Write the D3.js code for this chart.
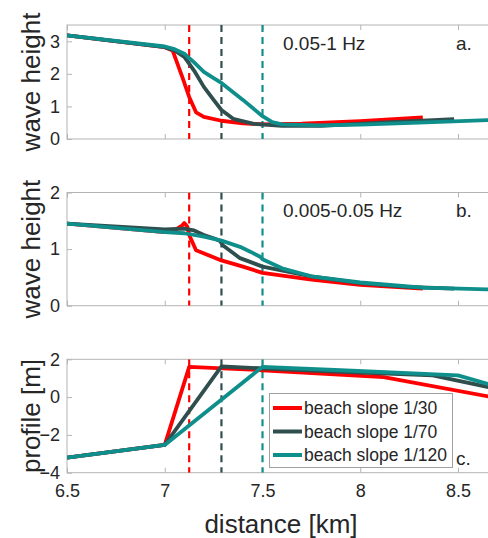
<!DOCTYPE html>
<html>
<head>
<meta charset="utf-8">
<script src="https://cdn.jsdelivr.net/npm/d3@7"></script>
<style>
  html, body { margin: 0; padding: 0; background: #fff; }
  svg { display: block; font-family: "Liberation Sans", Arial, sans-serif; }
  .tick text { fill: #262626; font-size: 18px; font-family: "Liberation Sans", Arial, sans-serif; }
  .domain { display: none; }
  .tick line { stroke: #b4b4b4; }
</style>
</head>
<body>
<div id="chart"></div>
<script>
// series names + colours
const SLOPES = ['beach slope 1/30', 'beach slope 1/70', 'beach slope 1/120'];
const COLORS = ['#ff0000', '#2f4f4f', '#0f8f8c'];
const shoreX = [7.125, 7.29, 7.5];   // dashed shoreline markers (km)

// panel a: wave height 0.05-1 Hz  [distance km, height]
const hfRed = [[6.5,3.18],[7.0,2.82],[7.04,2.72],[7.09,1.9],[7.125,1.29],[7.16,0.82],[7.2,0.68],[7.29,0.56],[7.4,0.48],[7.5,0.45],[7.7,0.47],[8.0,0.55],[8.32,0.66]];
const hfDark = [[6.5,3.18],[7.0,2.82],[7.05,2.72],[7.1,2.52],[7.15,2.1],[7.2,1.6],[7.25,1.2],[7.29,0.89],[7.35,0.62],[7.45,0.47],[7.6,0.4],[7.8,0.4],[8.1,0.5],[8.48,0.61]];
const hfTeal = [[6.5,3.18],[7.0,2.84],[7.05,2.76],[7.1,2.62],[7.15,2.35],[7.2,2.06],[7.25,1.87],[7.29,1.72],[7.4,1.2],[7.5,0.7],[7.55,0.52],[7.6,0.45],[7.8,0.42],[8.0,0.44],[8.3,0.5],[8.65,0.58],[8.75,0.6]];

// panel b: wave height 0.005-0.05 Hz
const lfRed = [[6.5,1.45],[7.0,1.3],[7.05,1.33],[7.09,1.42],[7.1,1.46],[7.115,1.4],[7.125,1.25],[7.16,0.98],[7.29,0.8],[7.4,0.69],[7.5,0.58],[7.75,0.46],[8.0,0.37],[8.32,0.3]];
const lfDark = [[6.5,1.45],[7.0,1.35],[7.1,1.36],[7.15,1.33],[7.2,1.25],[7.25,1.19],[7.28,1.15],[7.3,1.06],[7.385,0.84],[7.44,0.77],[7.5,0.69],[7.75,0.52],[8.0,0.4],[8.25,0.33],[8.48,0.3]];
const lfTeal = [[6.5,1.45],[7.0,1.3],[7.1,1.28],[7.2,1.22],[7.29,1.15],[7.385,1.04],[7.44,0.95],[7.49,0.86],[7.5,0.82],[7.6,0.66],[7.75,0.52],[8.0,0.41],[8.32,0.32],[8.65,0.29],[8.75,0.29]];

// panel c: bed profile [m]
const prRed = [[6.5,-3.2],[7.0,-2.53],[7.125,1.6],[7.5,1.42],[8.12,1.06],[8.75,-0.15]];
const prDark = [[6.5,-3.2],[7.0,-2.53],[7.29,1.62],[7.9,1.33],[8.37,1.15],[8.75,0.32]];
const prTeal = [[6.5,-3.2],[7.0,-2.53],[7.5,1.6],[7.9,1.42],[8.5,1.15],[8.75,0.4]];

const xTicks = [6.5, 7, 7.5, 8, 8.5];

const W = 488, H = 538;
const svg = d3.select('#chart').append('svg').attr('width', W).attr('height', H);

// plot spans past the right edge of the picture
const x = d3.scaleLinear().domain([6.5, 9]).range([67, 67 + 2.5 * 195.5]);
const right = x(9);

const panels = [
  { top: 25, bottom: 139, domain: [0, 3.5], yTicks: [0, 1, 2, 3], label: 'wave height',
    series: [hfRed, hfDark, hfTeal], note: '0.05-1 Hz', noteY: 50, tag: 'a.', tagY: 50 },
  { top: 192.5, bottom: 305.7, domain: [0, 2], yTicks: [0, 1, 2], label: 'wave height',
    series: [lfRed, lfDark, lfTeal], note: '0.005-0.05 Hz', noteY: 217, tag: 'b.', tagY: 217 },
  { top: 359.3, bottom: 472.7, domain: [-4, 2], yTicks: [-4, -2, 0, 2], label: 'profile [m]',
    series: [prRed, prDark, prTeal], note: null, tag: 'c.', tagY: 465 },
];

panels.forEach((p, pi) => {
  const y = d3.scaleLinear().domain(p.domain).range([p.bottom, p.top]);
  const g = svg.append('g');

  const clipId = 'clip' + pi;
  g.append('clipPath').attr('id', clipId).append('rect')
    .attr('x', x(6.5)).attr('y', p.top).attr('width', right - x(6.5)).attr('height', p.bottom - p.top);

  // axes: ticks point inward, top ticks mirror the bottom
  g.append('g').attr('transform', `translate(0,${p.bottom})`)
    .call(d3.axisBottom(x).tickValues(xTicks).tickSizeInner(-5).tickSizeOuter(0).tickPadding(12)
      .tickFormat(pi === 2 ? d3.format('') : () => ''));
  g.append('g').attr('transform', `translate(0,${p.top})`)
    .call(d3.axisTop(x).tickValues(xTicks).tickSizeInner(-5).tickSizeOuter(0).tickFormat(() => ''));
  g.append('g').attr('transform', `translate(${x(6.5)},0)`)
    .call(d3.axisLeft(y).tickValues(p.yTicks).tickSizeInner(-5).tickSizeOuter(0).tickPadding(7)
      .tickFormat(d3.format('')));

  g.append('rect')
    .attr('x', x(6.5)).attr('y', p.top).attr('width', right - x(6.5)).attr('height', p.bottom - p.top)
    .attr('fill', 'none').attr('stroke', '#b4b4b4').attr('stroke-width', 1);

  const plot = g.append('g').attr('clip-path', `url(#${clipId})`);

  shoreX.forEach((sx, i) => {
    plot.append('line')
      .attr('x1', x(sx)).attr('x2', x(sx)).attr('y1', p.top).attr('y2', p.bottom)
      .attr('stroke', COLORS[i]).attr('stroke-width', 2.2).attr('stroke-dasharray', '7,5');
  });

  const line = d3.line().x(d => x(d[0])).y(d => y(d[1]));
  p.series.forEach((s, i) => {
    plot.append('path').datum(s)
      .attr('d', line)
      .attr('fill', 'none').attr('stroke', COLORS[i]).attr('stroke-width', 3.8)
      .attr('stroke-linejoin', 'round');
  });

  g.append('text')
    .attr('transform', `translate(40,${(p.top + p.bottom) / 2}) rotate(-90)`)
    .attr('text-anchor', 'middle').attr('fill', '#262626').style('font-size', '26px')
    .text(p.label);

  if (p.note) {
    g.append('text').attr('x', 283).attr('y', p.noteY).attr('fill', '#262626')
      .style('font-size', '19px').text(p.note);
  }
  g.append('text').attr('x', 456).attr('y', p.tagY).attr('fill', '#262626')
    .style('font-size', '19px').text(p.tag);
});

// legend (panel c)
const leg = svg.append('g');
leg.append('rect').attr('x', 269.5).attr('y', 393.5).attr('width', 183).attr('height', 74)
  .attr('fill', '#fff').attr('stroke', '#a0a0a0').attr('stroke-width', 1);
SLOPES.forEach((name, i) => {
  const cy = 408 + i * 23.5;
  leg.append('line').attr('x1', 273).attr('x2', 302).attr('y1', cy).attr('y2', cy)
    .attr('stroke', COLORS[i]).attr('stroke-width', 4);
  leg.append('text').attr('x', 304).attr('y', cy + 6).attr('fill', '#262626')
    .style('font-size', '17.5px').text(name);
});

svg.append('text').attr('x', 281).attr('y', 533).attr('text-anchor', 'middle')
  .attr('fill', '#262626').style('font-size', '26px').text('distance [km]');
</script>
</body>
</html>
